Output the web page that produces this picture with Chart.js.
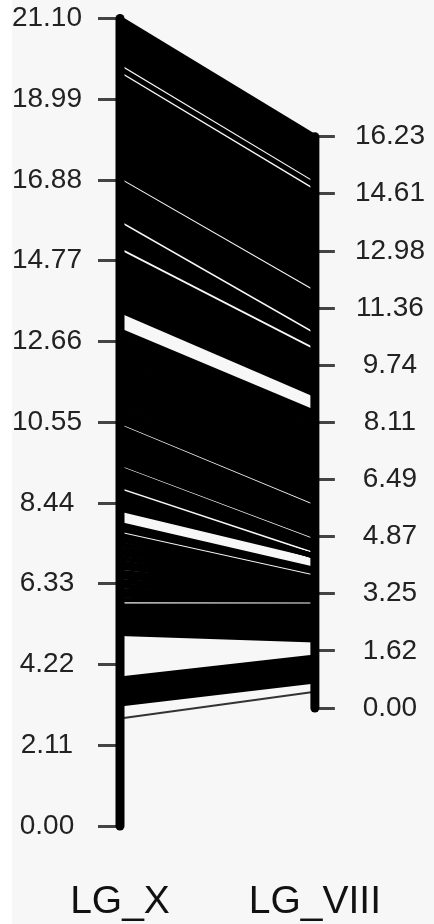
<!DOCTYPE html>
<html>
<head>
<meta charset="utf-8">
<script src="https://cdn.jsdelivr.net/npm/chart.js@4.4.1/dist/chart.umd.min.js"></script>
<style>
  body { margin: 0; background: #f7f7f7; }
  #myChart { display: block; background: linear-gradient(to right, #ffffff 0 12px, #f7f7f7 12px); }
</style>
</head>
<body>
<canvas id="myChart" width="434" height="924"></canvas>
<script>
// ====== Comparative map LG_X vs LG_VIII =========

const groupNames = ["LG_X", "LG_VIII"];
const lgXTicks = [0.0, 2.11, 4.22, 6.33, 8.44, 10.55, 12.66, 14.77, 16.88, 18.99, 21.1];
const lgVIIITicks = [0.0, 1.62, 3.25, 4.87, 6.49, 8.11, 9.74, 11.36, 12.98, 14.61, 16.23];

// marker positions (cM) - lgXPos[i] is linked to lgVIIIPos[i]
const lgXPos = [
  21.10, 20.99, 20.88, 20.76, 20.65, 20.54, 20.43, 20.32, 20.20, 20.09, 19.98,
  19.79,
  19.60, 19.48, 19.36, 19.25, 19.13, 19.01, 18.89, 18.78, 18.66, 18.54, 18.42,
  18.31, 18.19, 18.07, 17.95, 17.83, 17.72, 17.60, 17.48, 17.36, 17.25, 17.13, 17.01,
  16.83, 16.71, 16.60, 16.48, 16.36, 16.24, 16.13, 16.01, 15.89,
  15.69, 15.56, 15.44, 15.31, 15.18,
  14.98, 14.86, 14.75, 14.63, 14.52, 14.40, 14.28, 14.17, 14.05, 13.94, 13.82, 13.70, 13.59, 13.47,
  12.94, 12.82, 12.70, 12.58, 12.47, 12.35, 12.23, 12.11, 11.99, 11.88, 11.76,
  11.64, 11.52, 11.40, 11.29, 11.17, 11.05, 10.93, 10.81, 10.70, 10.58,
  10.42, 10.30, 10.19, 10.07, 9.96, 9.84, 9.72, 9.61, 9.49,
  9.33, 9.23, 9.12, 9.02, 8.91,
  8.73, 8.62, 8.51, 8.39, 8.28,
  7.88, 7.76,
  7.60, 7.48, 7.36, 7.24, 7.12, 7.00, 6.88, 6.76, 6.63, 6.51, 6.39, 6.27, 6.15, 6.03, 5.91,
  5.75, 5.68, 5.61, 5.53, 5.46, 5.39, 5.32, 5.25, 5.17, 5.10, 5.03,
  3.84, 3.77, 3.71, 3.64, 3.58, 3.51, 3.45, 3.38, 3.32, 3.25, 3.19,
  2.81,
];
const lgVIIIPos = [
  16.23, 16.11, 15.99, 15.87, 15.75, 15.63, 15.52, 15.40, 15.28, 15.16, 15.04,
  14.84,
  14.63, 14.51, 14.39, 14.27, 14.14, 14.02, 13.90, 13.78, 13.66, 13.54, 13.42,
  13.30, 13.17, 13.05, 12.93, 12.81, 12.69, 12.57, 12.45, 12.32, 12.20, 12.08, 11.96,
  11.76, 11.64, 11.51, 11.39, 11.26, 11.14, 11.01, 10.89, 10.76,
  10.54, 10.48, 10.43, 10.37, 10.31,
  10.09, 10.00, 9.91, 9.82, 9.73, 9.64, 9.55, 9.45, 9.36, 9.27, 9.18, 9.09, 9.00, 8.91,
  8.39, 8.26, 8.14, 8.01, 7.88, 7.76, 7.63, 7.50, 7.38, 7.25, 7.12,
  7.00, 6.87, 6.75, 6.62, 6.49, 6.37, 6.24, 6.11, 5.99, 5.86,
  5.68, 5.58, 5.48, 5.38, 5.29, 5.19, 5.09, 4.99, 4.89,
  4.71, 4.66, 4.60, 4.55, 4.50,
  4.30, 4.31, 4.31, 4.32, 4.32,
  3.94, 3.86,
  3.69, 3.65, 3.60, 3.56, 3.51, 3.47, 3.42, 3.38, 3.34, 3.29, 3.25, 3.20, 3.16, 3.11, 3.07,
  2.90, 2.80, 2.71, 2.61, 2.51, 2.42, 2.32, 2.22, 2.12, 2.03, 1.93,
  1.45, 1.39, 1.33, 1.26, 1.19, 1.12, 1.05, 0.98, 0.91, 0.84, 0.77,
  0.46,
];

// draws the marker links between the two axes
const linksPlugin = {
  id: "links",
  beforeDatasetsDraw(chart) {
    const c = chart.ctx;
    const xs = chart.scales.x;
    const leftScale = chart.scales.y;
    const rightScale = chart.scales.y1;
    c.save();
    for (let i = 0; i < lgXPos.length; i++) {
      // a link with no close neighbour shows up as a single thin line
      const prev = i > 0 ? lgXPos[i - 1] - lgXPos[i] : 99;
      const next = i < lgXPos.length - 1 ? lgXPos[i] - lgXPos[i + 1] : 99;
      const alone = prev > 0.3 && next > 0.3;
      c.strokeStyle = alone ? "#333333" : "#000000";
      c.lineWidth = alone ? 2 : 5;
      c.beginPath();
      c.moveTo(xs.getPixelForValue(0), leftScale.getPixelForValue(lgXPos[i]));
      c.lineTo(xs.getPixelForValue(1), rightScale.getPixelForValue(lgVIIIPos[i]));
      c.stroke();
    }
    c.restore();
  },
};

// keep the tick padding from pushing the plot area down
function noEdgePadding(s) {
  s.paddingTop = 0;
  s.paddingBottom = 0;
}

let ctx = document.getElementById("myChart").getContext("2d");

new Chart(ctx, {
  type: "scatter",
  data: {
    datasets: [
      {
        // LG_X bar
        data: [
          { x: 0, y: lgXTicks[0] },
          { x: 0, y: lgXTicks[lgXTicks.length - 1] },
        ],
        yAxisID: "y",
        showLine: true,
        borderColor: "#000000",
        borderWidth: 9,
        borderCapStyle: "round",
        pointRadius: 0,
        clip: false,
      },
      {
        // LG_VIII bar
        data: [
          { x: 1, y: lgVIIITicks[0] },
          { x: 1, y: lgVIIITicks[lgVIIITicks.length - 1] },
        ],
        yAxisID: "y1",
        showLine: true,
        borderColor: "#000000",
        borderWidth: 9,
        borderCapStyle: "round",
        pointRadius: 0,
        clip: false,
      },
    ],
  },
  options: {
    responsive: false,
    animation: false,
    layout: { padding: { top: 18.5, left: 0, right: 0, bottom: 0 } },
    plugins: {
      legend: { display: false },
      tooltip: { enabled: false },
    },
    scales: {
      x: {
        type: "linear",
        position: "bottom",
        min: 0,
        max: 1,
        grid: { display: false, drawTicks: false },
        border: { display: false },
        afterBuildTicks: (s) => {
          s.ticks = [{ value: 0 }, { value: 1 }];
        },
        afterFit: (s) => {
          s.height = 98;
        },
        ticks: {
          padding: 53,
          maxRotation: 0,
          autoSkip: false,
          color: "#111111",
          font: { family: "Liberation Sans", size: 39 },
          callback: (v, i) => groupNames[i],
        },
      },
      y: {
        type: "linear",
        position: "left",
        min: 0,
        max: 21.1,
        border: { display: false },
        grid: { drawOnChartArea: false, drawTicks: true, tickLength: 22, tickWidth: 3, tickColor: "#444444" },
        afterBuildTicks: (s) => {
          s.ticks = lgXTicks.map((v) => ({ value: v }));
        },
        afterFit: (s) => {
          s.width = 120;
          noEdgePadding(s);
        },
        ticks: {
          padding: 16,
          crossAlign: "center",
          color: "#222222",
          font: { family: "Liberation Sans", size: 28 },
          callback: (v) => v.toFixed(2),
        },
      },
      y1: {
        type: "linear",
        position: "right",
        min: -3.352,
        max: 19.588,
        border: { display: false },
        grid: { drawOnChartArea: false, drawTicks: true, tickLength: 20, tickWidth: 3, tickColor: "#444444" },
        afterBuildTicks: (s) => {
          s.ticks = lgVIIITicks.map((v) => ({ value: v }));
        },
        afterFit: (s) => {
          s.width = 112;
          noEdgePadding(s);
        },
        ticks: {
          padding: 20,
          crossAlign: "center",
          color: "#222222",
          font: { family: "Liberation Sans", size: 28 },
          callback: (v) => v.toFixed(2),
        },
      },
    },
  },
  plugins: [linksPlugin],
});
</script>
</body>
</html>
